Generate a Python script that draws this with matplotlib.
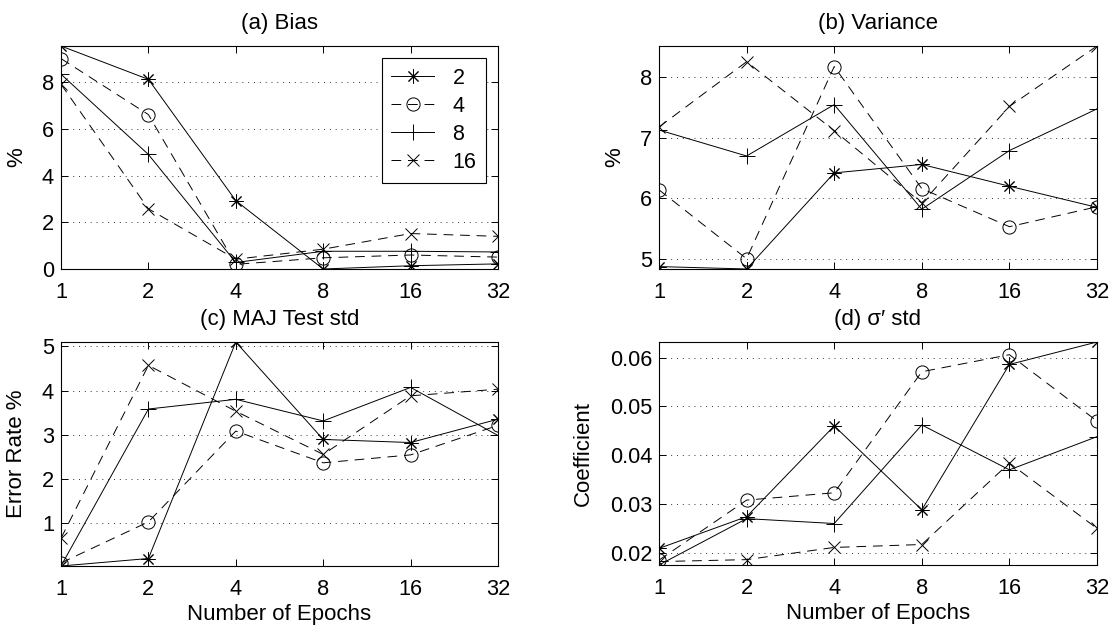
#Bias / variance of the ensembles against number of epochs
import matplotlib
matplotlib.use('Agg')
import matplotlib.pyplot as plt
import numpy as np

plt.rcParams['font.family'] = ['Liberation Sans', 'DejaVu Sans']

#data points
epochs = [1, 2, 4, 8, 16, 32]
sizes = ['2', '4', '8', '16']

bias_2 = [9.56, 8.13, 2.93, 0.0, 0.14, 0.22]
bias_4 = [9.02, 6.62, 0.20, 0.48, 0.60, 0.51]
bias_8 = [8.35, 4.91, 0.28, 0.76, 0.76, 0.73]
bias_16 = [7.92, 2.58, 0.42, 0.85, 1.52, 1.40]

var_2 = [4.87, 4.83, 6.42, 6.56, 6.20, 5.85]
var_4 = [6.14, 5.00, 8.18, 6.16, 5.53, 5.86]
var_8 = [7.13, 6.70, 7.55, 5.82, 6.79, 7.48]
var_16 = [7.18, 8.26, 7.12, 5.92, 7.52, 8.52]

maj_2 = [0.02, 0.19, 5.10, 2.89, 2.82, 3.35]
maj_4 = [0.09, 1.02, 3.08, 2.36, 2.54, 3.21]
maj_8 = [0.02, 3.58, 3.80, 3.31, 4.07, 2.98]
maj_16 = [0.65, 4.57, 3.53, 2.55, 3.88, 4.03]

sig_2 = [0.0209, 0.0274, 0.0460, 0.0288, 0.0586, 0.0632]
sig_4 = [0.0185, 0.0308, 0.0323, 0.0571, 0.0606, 0.0470]
sig_8 = [0.0175, 0.0270, 0.0260, 0.0462, 0.0370, 0.0438]
sig_16 = [0.0182, 0.0186, 0.0211, 0.0217, 0.0384, 0.0250]

#line styles for the 4 ensemble sizes (matlab look)
dash = (0, (10, 7))
styles = [dict(marker=(8, 2, 0), ls='-', ms=10),
          dict(marker='o', ls=dash, ms=9.5, mfc='none'),
          dict(marker='+', ls='-', ms=11),
          dict(marker='x', ls=dash, ms=8.5)]

fig = plt.figure(figsize=(11.15, 6.35), dpi=100)
W, H = 1115.0, 635.0
def box(l, t, r, b):
    return [l/W, 1-b/H, (r-l)/W, (b-t)/H]

panels = [(box(61, 46, 498, 269), [bias_2, bias_4, bias_8, bias_16], '(a) Bias', '%', [0, 2, 4, 6, 8], -0.078),
          (box(659, 46, 1097, 269), [var_2, var_4, var_8, var_16], '(b) Variance', '%', [5, 6, 7, 8], -0.078),
          (box(61, 342, 498, 566), [maj_2, maj_4, maj_8, maj_16], '(c) MAJ Test std', 'Error Rate %', [1, 2, 3, 4, 5], -0.078),
          (box(659, 342, 1097, 565), [sig_2, sig_4, sig_8, sig_16], '(d) \u03c3\u2032 std', 'Coefficient', [0.02, 0.03, 0.04, 0.05, 0.06], -0.148)]

axes = []
for i, (pos, series, title, ylab, yt, lx) in enumerate(panels):
    ax = fig.add_axes(pos)
    for s, st, lab in zip(series, styles, sizes):
        ax.plot(epochs, s, color='k', lw=0.7, mew=0.7, label=lab, **st)
    ax.set_xscale('log', base=2)
    ax.set_xticks(epochs)
    ax.set_xticklabels([str(e) for e in epochs])
    ax.minorticks_off()
    ax.set_xlim(epochs[0], epochs[-1])
    #axis tight
    allv = np.concatenate(series)
    ax.set_ylim(allv.min(), allv.max())
    ax.set_yticks(yt)
    if i == 3:
        ax.set_yticklabels(['%.2f' % v for v in yt])
    ax.yaxis.grid(True, ls=(0, (1, 5)), color='0.2', lw=0.7)
    ax.tick_params(direction='in', top=True, right=True, length=5, width=0.7,
                   labelsize=15.7)
    ax.tick_params(axis='x', pad=9.5)
    ax.tick_params(axis='y', pad=5)
    for sp in ax.spines.values():
        sp.set_linewidth(0.8)
    ax.set_title(title, fontsize=16, pad=12.5)
    ax.set_ylabel(ylab, fontsize=16)
    ax.yaxis.set_label_coords(lx, 0.5)
    if i >= 2:
        ax.set_xlabel('Number of Epochs', fontsize=16, labelpad=3)
    axes.append(ax)

leg = axes[0].legend(loc='upper right', fontsize=15.5, handlelength=2.0, handletextpad=0.85,
                     labelspacing=0.33, borderpad=0.45, borderaxespad=0.55, fancybox=False,
                     framealpha=1, edgecolor='k')
leg.get_frame().set_linewidth(0.8)

plt.savefig('out.png', dpi=100)
